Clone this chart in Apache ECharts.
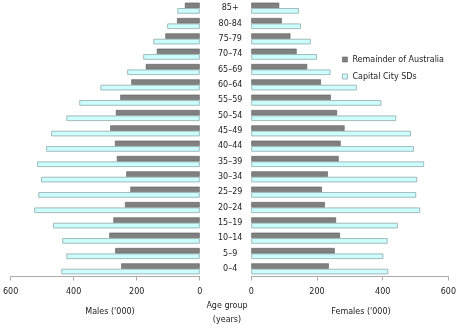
<!DOCTYPE html>
<html>
<head>
<meta charset="utf-8">
<script src="https://cdn.jsdelivr.net/npm/echarts@6/dist/echarts.min.js"></script>
<style>html,body{margin:0;padding:0;background:#fff;}#c{width:459px;height:325px;}</style>
</head>
<body>
<div id="c"></div>
<script>
var ageGroups = ['0–4','5–9','10–14','15–19','20–24','25–29','30–34','35–39','40–44','45–49','50–54','55–59','60–64','65–69','70–74','75-79','80-84','85+'];
var malesRemainder = [249,268,287,274,237,220,233,263,269,284,266,252,217,171,136,109,72,47];
var malesCapital   = [439,423,436,465,525,512,503,516,487,471,423,382,315,230,179,147,103,71];
var femalesRemainder = [236,254,270,258,224,215,233,266,272,284,261,242,212,170,138,119,93,85];
var femalesCapital   = [417,402,415,446,514,502,505,526,495,486,441,396,321,241,200,181,151,145];
var xTicks = [0,200,400,600];

var FONT = 'DejaVu Sans';
var TXT = '#222';
var darkStyle = {color:'#808080', borderColor:'#5e5e5e', borderWidth:0.6};
var cyanStyle = {color:'#ccffff', borderColor:'#8fa8a8', borderWidth:0.8};

function xAxisDef(idx, inverse){
  return {
    type:'value', gridIndex:idx, min:0, max:600, interval:200, inverse:inverse,
    axisLine:{show:true, lineStyle:{color:'#aaaaaa', width:1}},
    axisTick:{show:true, length:4, lineStyle:{color:'#aaaaaa'}},
    splitLine:{show:false},
    axisLabel:{fontFamily:FONT, fontSize:8, color:TXT, margin:11,
      formatter:function(v){ return xTicks.indexOf(v)>=0 ? String(v) : ''; }}
  };
}

function label(text, x, y){
  return {type:'text', x:x, y:y, style:{text:text, font:'8px "DejaVu Sans"', fill:TXT, align:'center', verticalAlign:'middle'}};
}

var chart = echarts.init(document.getElementById('c'), null, {renderer:'canvas'});
chart.setOption({
  animation:false,
  backgroundColor:'#fff',
  grid:[
    {left:10.5, right:259.3, top:0.5, bottom:48.5},
    {left:251.3, right:8.7, top:0.5, bottom:48.5}
  ],
  xAxis:[xAxisDef(0,true), xAxisDef(1,false)],
  yAxis:[
    {type:'category', gridIndex:0, data:ageGroups, position:'right',
     axisLine:{show:false}, axisTick:{show:false}, splitLine:{show:false},
     axisLabel:{fontFamily:FONT, fontSize:8, color:TXT, align:'center', margin:30.5}},
    {type:'category', gridIndex:1, data:ageGroups,
     axisLine:{show:false}, axisTick:{show:false}, splitLine:{show:false},
     axisLabel:{show:false}}
  ],
  legend:{
    orient:'vertical', left:337, top:50.5, itemWidth:5, itemHeight:5, itemGap:9,
    icon:'rect',
    textStyle:{fontFamily:FONT, fontSize:8, color:TXT},
    data:[
      {name:'Remainder of Australia', itemStyle:darkStyle},
      {name:'Capital City SDs', itemStyle:cyanStyle}
    ]
  },
  series:[
    {name:'Remainder of Australia', type:'bar', xAxisIndex:0, yAxisIndex:0, data:malesRemainder, barWidth:5.5, barGap:'0%', itemStyle:darkStyle},
    {name:'Capital City SDs', type:'bar', xAxisIndex:0, yAxisIndex:0, data:malesCapital, barWidth:5.5, barGap:'0%', itemStyle:cyanStyle},
    {name:'Remainder of Australia', type:'bar', xAxisIndex:1, yAxisIndex:1, data:femalesRemainder, barWidth:5.5, barGap:'0%', itemStyle:darkStyle},
    {name:'Capital City SDs', type:'bar', xAxisIndex:1, yAxisIndex:1, data:femalesCapital, barWidth:5.5, barGap:'0%', itemStyle:cyanStyle}
  ],
  graphic:[
    label("Males ('000)", 110, 312),
    label("Females ('000)", 361, 312),
    label('Age group', 227, 306),
    label('(years)', 227, 319.5)
  ]
});
</script>
</body>
</html>
